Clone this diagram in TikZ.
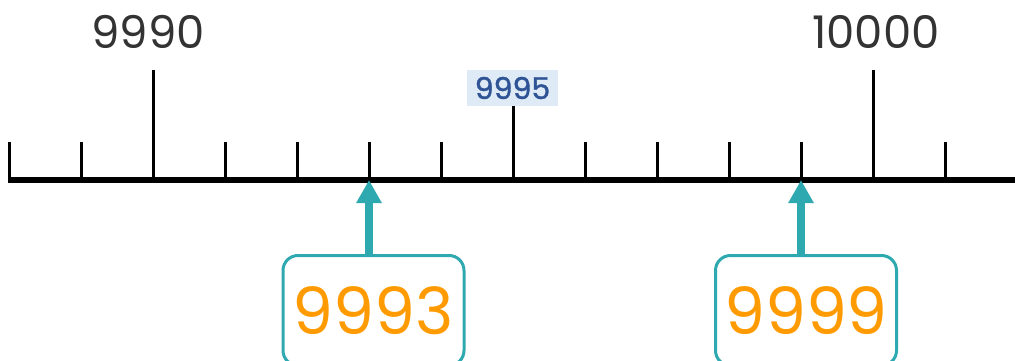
\documentclass[tikz,border=0pt]{standalone}
\usepackage{fontspec}
\setmainfont{Poppins}
\usetikzlibrary{arrows.meta}
\definecolor{tealc}{HTML}{2FA9B0}
\definecolor{orangec}{HTML}{FF9A00}
\definecolor{grayc}{HTML}{333333}
\definecolor{bluec}{HTML}{2F5496}
\definecolor{bluefill}{HTML}{DEEAF6}
\tikzset{
  axisline/.style={line width=6pt},
  tickline/.style={line width=3pt},
  biglabel/.style={text=grayc, font=\fontsize{45}{50}\selectfont, inner sep=0pt},
  midlabel/.style={text=bluec, fill=bluefill, font=\fontsize{30}{32}\selectfont\addfontfeature{FakeBold=1.2}, minimum width=91pt, minimum height=36pt, inner sep=0pt},
  answerbox/.style={draw=tealc, line width=3pt, rounded corners=15pt, minimum width=181pt, minimum height=110pt, text=orangec, font=\fontsize{65}{70}\selectfont, inner sep=0pt},
  pointer/.style={draw=tealc, line width=8pt, -{Triangle[width=24pt,length=23pt]}, shorten >=0pt}
}
\begin{document}
\begin{tikzpicture}[x=1pt,y=-1pt]
\useasboundingbox (0,0) rectangle (1015,361);
\clip (0,0) rectangle (1015,361);
% axis
\coordinate (axl) at (8,180);
\coordinate (axr) at (1015,180);
\draw[axisline] (axl) -- (axr);
% ticks
\foreach \i in {0,...,13}{
  \coordinate (t\i) at ({9+72*\i},180);
  \coordinate (s\i) at ({9+72*\i},142);
  \draw[tickline] (t\i) -- (s\i);
}
\coordinate (l2) at (153,70);
\coordinate (l12) at (873,70);
\coordinate (m7) at (513,106);
\draw[tickline] (t2) -- (l2);
\draw[tickline] (t12) -- (l12);
\draw[tickline] (t7) -- (m7);
% labels
\node[biglabel] (lab9990) at (148,32) {9990};
\node[biglabel] (lab10000) at (876,32) {10000};
\node[midlabel] (lab9995) at (512.5,88) {9995};
% answer boxes
\node[answerbox] (box1) at (373.5,310.5) {9993};
\node[answerbox] (box2) at (806,310.5) {9999};
\draw[pointer] (box1.north -| t5) -- (t5);
\draw[pointer] (box2.north -| t11) -- (t11);
\end{tikzpicture}
\end{document}
